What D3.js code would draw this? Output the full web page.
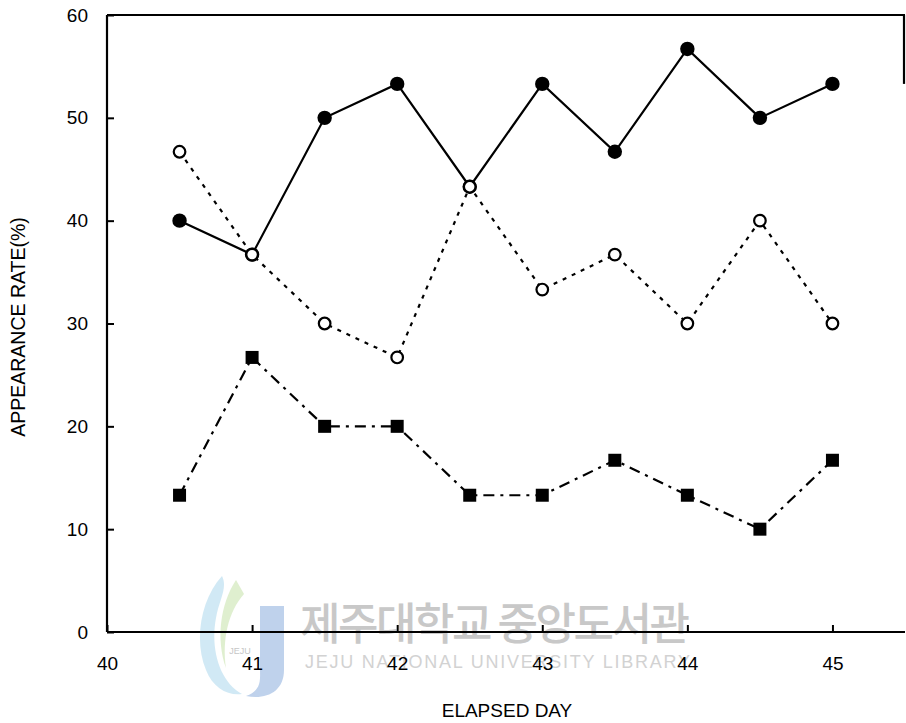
<!DOCTYPE html>
<html>
<head>
<meta charset="utf-8">
<script src="https://cdn.jsdelivr.net/npm/d3@7/dist/d3.min.js"></script>
<style>
  html, body { margin: 0; padding: 0; background: #fff; }
  svg { display: block; }
  text { font-family: "Liberation Sans", Arial, Helvetica, sans-serif; fill: #000; }
</style>
</head>
<body>
<svg id="chart" width="906" height="723"></svg>
<script>
// Elapsed day (half-day steps)
const days = [40.5, 41, 41.5, 42, 42.5, 43, 43.5, 44, 44.5, 45];
// Appearance rate (%) for the three series
const filledCircle = [40, 36.7, 50, 53.3, 43.3, 53.3, 46.7, 56.7, 50, 53.3];
const openCircle   = [46.7, 36.7, 30, 26.7, 43.3, 33.3, 36.7, 30, 40, 30];
const filledSquare = [13.3, 26.7, 20, 20, 13.3, 13.3, 16.7, 13.3, 10, 16.7];
// Axis ticks
const xTicks = [40, 41, 42, 43, 44, 45];
const yTicks = [0, 10, 20, 30, 40, 50, 60];

const svg = d3.select("#chart");

const x = d3.scaleLinear().domain([40, 45.5]).range([107, 905]);
const y = d3.scaleLinear().domain([0, 60]).range([632, 15]);

// Library watermark (light, behind the chart)
const wm = svg.append("g").attr("class", "watermark");
const logo = wm.append("g").attr("opacity", 0.6);
logo.append("path")
  .attr("d", "M222,576 C200,600 194,642 206,670 C213,688 228,696 242,694 C220,682 210,650 216,618 C219,600 228,588 222,576 Z")
  .attr("fill", "#b4dcef");
logo.append("path")
  .attr("d", "M236,580 C220,604 216,640 226,668 C222,640 228,612 244,594 Z")
  .attr("fill", "#cbe5b0");
logo.append("path")
  .attr("d", "M260,606 L284,606 L284,670 C284,692 266,700 246,696 C262,690 260,680 260,668 Z")
  .attr("fill", "#95b4df");
wm.append("text")
  .attr("x", 240).attr("y", 654)
  .attr("text-anchor", "middle")
  .attr("font-size", 9)
  .style("fill", "#c6c6c6")
  .text("JEJU");
wm.append("text")
  .attr("x", 300).attr("y", 640)
  .attr("font-size", 44)
  .attr("font-weight", 500)
  .attr("textLength", 390)
  .style("font-family", "'Noto Sans CJK KR', sans-serif")
  .style("fill", "#c8c8c8")
  .text("제주대학교 중앙도서관");
wm.append("text")
  .attr("x", 305).attr("y", 668)
  .attr("font-size", 18)
  .attr("textLength", 385)
  .style("fill", "#d2d2d2")
  .text("JEJU NATIONAL UNIVERSITY LIBRARY");

// Frame: left and bottom axes, top border, partial right border
const frame = svg.append("g").attr("stroke", "#000").attr("stroke-width", 2.2).attr("fill", "none");
frame.append("line").attr("x1", x(40)).attr("x2", x(40)).attr("y1", y(60)).attr("y2", y(0));
frame.append("line").attr("x1", x(40)).attr("x2", x(45.5)).attr("y1", y(0)).attr("y2", y(0));
frame.append("line").attr("x1", x(40)).attr("x2", x(45.5)).attr("y1", y(60)).attr("y2", y(60));
frame.append("line").attr("x1", x(45.5) - 1).attr("x2", x(45.5) - 1).attr("y1", y(60)).attr("y2", y(53.3));

// Axes with inward ticks
const yAxis = d3.axisLeft(y).tickValues(yTicks).tickSizeInner(-7).tickSizeOuter(0).tickPadding(19);
const gy = svg.append("g").attr("transform", `translate(${x(40)},0)`).call(yAxis);
gy.select(".domain").remove();
gy.selectAll(".tick line").attr("stroke", "#000").attr("stroke-width", 2);
gy.selectAll(".tick text").attr("font-size", 19).attr("font-family", null).style("fill", "#000");

const xAxis = d3.axisBottom(x).tickValues(xTicks).tickFormat(d3.format("d")).tickSizeInner(-7).tickSizeOuter(0).tickPadding(25);
const gx = svg.append("g").attr("transform", `translate(0,${y(0)})`).call(xAxis);
gx.select(".domain").remove();
gx.selectAll(".tick line").attr("stroke", "#000").attr("stroke-width", 2);
gx.selectAll(".tick text").attr("font-size", 19).attr("font-family", null).style("fill", "#000");

// Axis titles
svg.append("text")
  .attr("transform", "translate(25,327) rotate(-90)")
  .attr("text-anchor", "middle")
  .attr("font-size", 19.5)
  .text("APPEARANCE RATE(%)");
svg.append("text")
  .attr("x", 507).attr("y", 717)
  .attr("text-anchor", "middle")
  .attr("font-size", 19)
  .text("ELAPSED DAY");

// Series
const line = d3.line().x(d => x(d[0])).y(d => y(d[1]));
const pts = vals => days.map((d, i) => [d, vals[i]]);

const series = [
  { vals: filledCircle, dash: null },
  { vals: openCircle, dash: "4,6" },
  { vals: filledSquare, dash: "11,6,3,6" }
];
series.forEach(s => {
  svg.append("path")
    .datum(pts(s.vals))
    .attr("d", line)
    .attr("fill", "none")
    .attr("stroke", "#000")
    .attr("stroke-width", 2.2)
    .attr("stroke-dasharray", s.dash);
});

// Markers
svg.append("g").selectAll("circle")
  .data(pts(filledCircle)).join("circle")
  .attr("cx", d => x(d[0])).attr("cy", d => y(d[1]))
  .attr("r", 7.2).attr("fill", "#000");

svg.append("g").selectAll("circle")
  .data(pts(openCircle)).join("circle")
  .attr("cx", d => x(d[0])).attr("cy", d => y(d[1]))
  .attr("r", 5.8).attr("fill", "#fff").attr("stroke", "#000").attr("stroke-width", 2.2);

svg.append("g").selectAll("rect")
  .data(pts(filledSquare)).join("rect")
  .attr("x", d => x(d[0]) - 6.5).attr("y", d => y(d[1]) - 6.5)
  .attr("width", 13).attr("height", 13).attr("fill", "#000");
</script>
</body>
</html>
